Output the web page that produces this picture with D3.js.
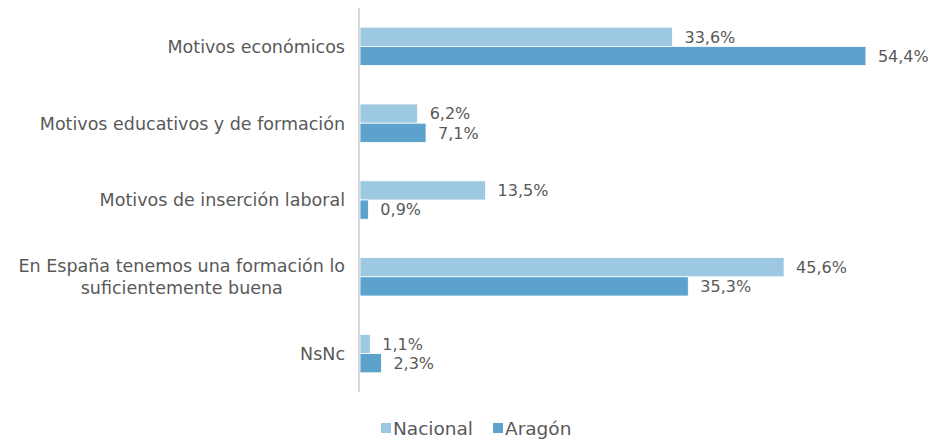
<!DOCTYPE html>
<html>
<head>
    <meta charset="utf-8">
    <title>Motivos</title>
    <script src="https://d3js.org/d3.v7.min.js"></script>
    <style>
        body { margin: 0; background: #fff; }
        text { font-family: "DejaVu Sans", sans-serif; fill: #595959; }
    </style>
</head>
<body>
    <svg id="chart"></svg>

    <script>
        // Data values
        const categories = [
            ['Motivos económicos'],
            ['Motivos educativos y de formación'],
            ['Motivos de inserción laboral'],
            ['En España tenemos una formación lo', 'suficientemente buena'],
            ['NsNc']
        ];
        const series = ['Nacional', 'Aragón'];
        const nacional = [33.6, 6.2, 13.5, 45.6, 1.1];
        const aragon = [54.4, 7.1, 0.9, 35.3, 2.3];
        const colors = ['#9dc8e2', '#5ba3cc'];

        const width = 930;
        const height = 439;

        const data = categories.map((c, i) => ({ key: i, lines: c, values: [nacional[i], aragon[i]] }));

        const y = d3.scaleBand()
            .domain(data.map(d => d.key))
            .range([8, 392])
            .paddingInner(0.5)
            .paddingOuter(0.25);

        const ySub = d3.scaleBand()
            .domain([0, 1])
            .range([0, y.bandwidth()]);

        const x = d3.scaleLinear()
            .domain([0, 60])
            .range([360, 360 + 60 * 9.3]);

        const svg = d3.select('#chart')
            .attr('width', width)
            .attr('height', height);

        // Groups
        const g = svg.selectAll('.group')
            .data(data)
            .enter()
            .append('g')
            .attr('transform', d => `translate(0,${y(d.key)})`);

        g.selectAll('rect')
            .data(d => d.values)
            .enter()
            .append('rect')
            .attr('x', x(0))
            .attr('y', (v, i) => ySub(i))
            .attr('width', v => x(v) - x(0))
            .attr('height', ySub.bandwidth())
            .attr('fill', (v, i) => colors[i])
            .attr('stroke', '#fff')
            .attr('stroke-width', 0.8);

        g.selectAll('.val')
            .data(d => d.values)
            .enter()
            .append('text')
            .attr('class', 'val')
            .attr('x', v => x(v) + 12)
            .attr('y', (v, i) => ySub(i) + ySub.bandwidth() / 2)
            .attr('dy', '0.36em')
            .style('font-size', '16px')
            .text(v => v.toFixed(1).replace('.', ',') + '%');

        // Category labels
        const labelRight = 345;
        const mid = y.bandwidth() / 2;
        g.each(function(d) {
            const t = d3.select(this).append('text')
                .style('font-size', '17.5px')
                .attr('text-anchor', 'middle');
            const n = d.lines.length;
            d.lines.forEach((line, j) => {
                t.append('tspan')
                    .attr('x', 0)
                    .attr('y', mid + (j - (n - 1) / 2) * 22)
                    .attr('dy', '0.36em')
                    .text(line);
            });
            const w = t.node().getBBox().width;
            t.selectAll('tspan').attr('x', labelRight - w / 2);
        });

        // Axis line
        svg.append('line')
            .attr('x1', x(0) - 1).attr('x2', x(0) - 1)
            .attr('y1', 8).attr('y2', 392)
            .attr('stroke', '#d9d9d9')
            .attr('stroke-width', 2);

        // Legend
        const legendX = [381, 493];
        const legend = svg.selectAll('.legend')
            .data(series)
            .enter()
            .append('g')
            .attr('transform', (d, i) => `translate(${legendX[i]},0)`);

        legend.append('rect')
            .attr('x', 0).attr('y', 423)
            .attr('width', 10).attr('height', 10)
            .attr('fill', (d, i) => colors[i]);

        legend.append('text')
            .attr('x', 12)
            .attr('y', 428)
            .attr('dy', '0.36em')
            .style('font-size', '18.5px')
            .text(d => d);
    </script>
</body>
</html>
